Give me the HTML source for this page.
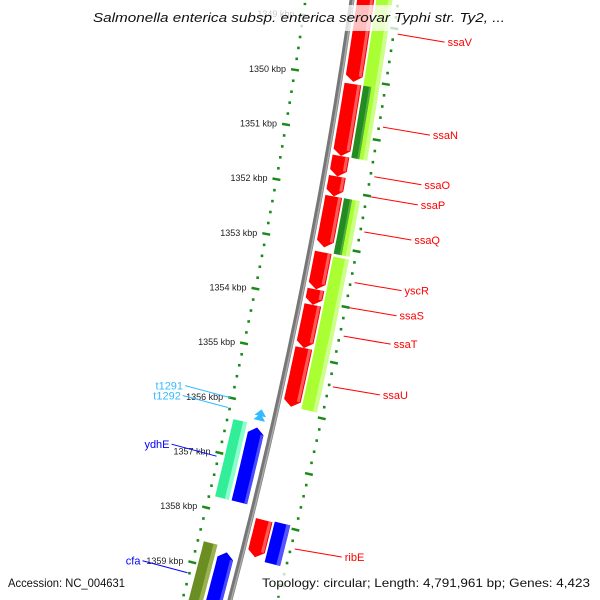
<!DOCTYPE html>
<html><head><meta charset="utf-8"><style>
html,body{margin:0;padding:0;background:#fff;overflow:hidden;}
svg{display:block;overflow:hidden;font-family:"Liberation Sans","DejaVu Sans",sans-serif;}
</style></head><body>
<svg id="chart" width="600" height="600" viewBox="0 0 600 600" xmlns="http://www.w3.org/2000/svg"></svg>
<script>
// ---- data (kbp) ----
const tickKbp = [1349,1350,1351,1352,1353,1354,1355,1356,1357,1358,1359];
const tickLabels = ["1349 kbp","1350 kbp","1351 kbp","1352 kbp","1353 kbp","1354 kbp","1355 kbp","1356 kbp","1357 kbp","1358 kbp","1359 kbp"];
const fwdGeneStarts = [1348.5,1350.09,1351.39,1351.76,1352.12,1353.13,1353.80,1354.08,1354.86,1357.97];
const fwdGeneEnds   = [1350.05,1351.39,1351.76,1352.12,1353.04,1353.80,1354.08,1354.86,1355.92,1358.64];
const fwdGeneNames  = ["ssaV","ssaN","ssaO","ssaP","ssaQ","yscR","ssaS","ssaT","ssaU","ribE"];
const fwdLabelKbp   = [1349.09,1350.76,1351.65,1352.01,1352.64,1353.55,1354.0,1354.51,1355.42,1358.33];
const fwdCdsStarts  = [1348.5,1350.09,1352.12,1353.17,1357.95];
const fwdCdsEnds    = [1350.09,1351.39,1353.12,1355.92,1358.68];
const fwdCdsTypes   = ["lime","overlap","overlap","lime","blue"];
const revGeneStarts = [1356.41,1358.68];
const revGeneEnds   = [1357.77,1359.9];
const revOuterStarts= [1356.36,1358.59];
const revOuterEnds  = [1357.77,1359.9];
const revOuterTypes = ["teal","olive"];
const trnaKbp = [1356.08,1356.16];
const leftNames = ["t1291","t1292","ydhE","cfa"];
const leftLabelKbp = [1356.0,1356.18,1357.07,1359.2];

// ---- geometry ----
const svg = document.getElementById('chart');
const NS = 'http://www.w3.org/2000/svg';
function yS(k){ return 77 + (k-1350)*55.2; }
function P(k,d){
  const y0=yS(k); const cx=352-0.1428*y0-0.000101*y0*y0;
  const sl=-0.1428-0.000202*y0; const n=Math.sqrt(1+sl*sl);
  return [cx+d/n, y0-d*sl/n];
}
function mk(tag,attrs,name,parent){
  const e=document.createElementNS(NS,tag);
  for(const a in attrs) e.setAttribute(a,attrs[a]);
  
  
  (parent||svg).appendChild(e); return e;
}
function pts(a){ return a.map(p=>p[0].toFixed(1)+','+p[1].toFixed(1)).join(' '); }
function edge(k1,k2,d){ const r=[]; const n=8; for(let i=0;i<=n;i++) r.push(P(k1+(k2-k1)*i/n,d)); return r; }
function band(k1,k2,d1,d2){ return edge(k1,k2,d1).concat(edge(k2,k1,d2)); }
function arrow(k1,k2,d1,d2,dir){
  const h=6/55.2, m=(d1+d2)/2;
  if(dir>0){ const kt=Math.max(k1,k2-h); return edge(k1,kt,d1).concat([P(k2,m)],edge(kt,k1,d2)); }
  const kt=Math.min(k2,k1+h); return [P(k1,m)].concat(edge(kt,k2,d2),edge(k2,kt,d1));
}

// backbone
const bb=[]; for(let k=1348;k<=1360.2;k+=0.25) bb.push(P(k,0));
mk('polyline',{points:pts(bb),fill:'none',stroke:'#777',"stroke-width":5},'backbone');
mk('polyline',{points:pts(bb.map(p=>[p[0]+1.2,p[1]])),fill:'none',stroke:'#aaa',"stroke-width":1.5},'backbone-highlight');

// axes dots & ticks
[-46,46].forEach((d,ai)=>{
  const g=mk('g',{},ai?'right-scale':'left-scale');
  for(let i=0;i<=60;i++){
    const k=1348.4+i*0.2; if(Math.abs(k-Math.round(k))<0.01) continue;
    const p=P(k,d);
    mk('rect',{x:p[0]-1.3,y:p[1]-1.3,width:2.6,height:2.6,fill:'#1a8a1a'},'scale-dot',g);
  }
  tickKbp.forEach(k=>{
    const a=P(k,d-4), b=P(k,d+4);
    mk('line',{x1:a[0],y1:a[1],x2:b[0],y2:b[1],stroke:'#1a8a1a',"stroke-width":2.5},'scale-tick',g);
  });
});
tickKbp.forEach((k,i)=>{
  const p=P(k,-52);
  const t=mk('text',{x:p[0]-3,y:p[1]+3,"text-anchor":'end',"font-size":9,fill:'#222'},'tick-label');
  t.textContent=tickLabels[i];
});

const colors={lime:['#aaff33','#ccff88'],blue:['#0000ff','#5555ff'],teal:['#33ee99','#88ffcc'],olive:['#6b8e23','#9ab24f'],overlap:['#aaff33','#ccff88']};
fwdCdsStarts.forEach((s,i)=>{
  const e=fwdCdsEnds[i], c=colors[fwdCdsTypes[i]];
  mk('polygon',{points:pts(band(s,e,24,40)),fill:c[0]},'cds-'+fwdCdsTypes[i]);
  mk('polygon',{points:pts(band(s,e,36,40)),fill:c[1]},'cds-highlight');
  if(fwdCdsTypes[i]==='overlap'){
    mk('polygon',{points:pts(band(s,e,24,32)),fill:'#228b22'},'cds-overlap-dark');
    mk('polygon',{points:pts(band(s,e,30,32)),fill:'#4fae3f'},'cds-overlap-hl');
  }
});
fwdGeneStarts.forEach((s,i)=>{
  const e=fwdGeneEnds[i];
  mk('polygon',{points:pts(arrow(s,e,5,22,1)),fill:'#ff0000'},'gene-'+fwdGeneNames[i]);
  mk('polygon',{points:pts(band(s,e-0.11,18,21)),fill:'#ff5a5a'},'gene-highlight');
});
revOuterStarts.forEach((s,i)=>{
  const c=colors[revOuterTypes[i]];
  mk('polygon',{points:pts(band(s,revOuterEnds[i],-40,-26)),fill:c[0]},'cds-'+revOuterTypes[i]);
  mk('polygon',{points:pts(band(s,revOuterEnds[i],-30,-26)),fill:c[1]},'cds-highlight');
});
revGeneStarts.forEach((s,i)=>{
  mk('polygon',{points:pts(arrow(s,revGeneEnds[i],-23,-7,-1)),fill:'#0000ff'},'gene-reverse');
  mk('polygon',{points:pts(band(s+0.11,revGeneEnds[i],-10,-7)),fill:'#4a4aff'},'gene-highlight');
});
trnaKbp.forEach(k=>{
  mk('polygon',{points:pts(arrow(k,k+0.12,-20,-9,-1)),fill:'#33bbff'},'trna-gene');
});

// right labels
fwdGeneNames.forEach((n,i)=>{
  const a=P(fwdLabelKbp[i],50); const b=[a[0]+47,a[1]+8];
  mk('line',{x1:a[0],y1:a[1],x2:b[0],y2:b[1],stroke:'#ff0000',"stroke-width":1},'label-line');
  const t=mk('text',{x:b[0]+3,y:b[1]+4,"font-size":11,fill:'#ff0000'},'gene-label-'+n);
  t.textContent=n;
});
// left labels
const leftCol=['#33bbff','#33bbff','#0000ff','#0000ff'];
leftNames.forEach((n,i)=>{
  const a=P(leftLabelKbp[i],-48); const b=[a[0]-45,a[1]-12];
  mk('line',{x1:a[0],y1:a[1],x2:b[0],y2:b[1],stroke:leftCol[i],"stroke-width":1},'label-line');
  const t=mk('text',{x:b[0]-2,y:b[1]+4,"text-anchor":'end',"font-size":11,fill:leftCol[i]},'gene-label-'+n);
  t.textContent=n;
});

// overlays
mk('rect',{x:88,y:5,width:424,height:26,fill:'#fff',opacity:0.75},'title-backdrop');
const tt=mk('text',{x:93,y:22,"font-size":13,"font-style":'italic',fill:'#111',textLength:412,lengthAdjust:'spacingAndGlyphs'},'chart-title');
tt.textContent='Salmonella enterica subsp. enterica serovar Typhi str. Ty2, ...';
mk('rect',{x:4,y:572,width:126,height:24,fill:'#fff',opacity:0.75},'accession-backdrop');
mk('rect',{x:257,y:572,width:339,height:24,fill:'#fff',opacity:0.75},'topology-backdrop');
const a1=mk('text',{x:8,y:587,"font-size":12,fill:'#111',textLength:117,lengthAdjust:'spacingAndGlyphs'},'accession-text'); a1.textContent='Accession: NC_004631';
const a2=mk('text',{x:262,y:587,"font-size":12,fill:'#111',textLength:328,lengthAdjust:'spacingAndGlyphs'},'topology-text'); a2.textContent='Topology: circular; Length: 4,791,961 bp; Genes: 4,423';
</script>
</body></html>
